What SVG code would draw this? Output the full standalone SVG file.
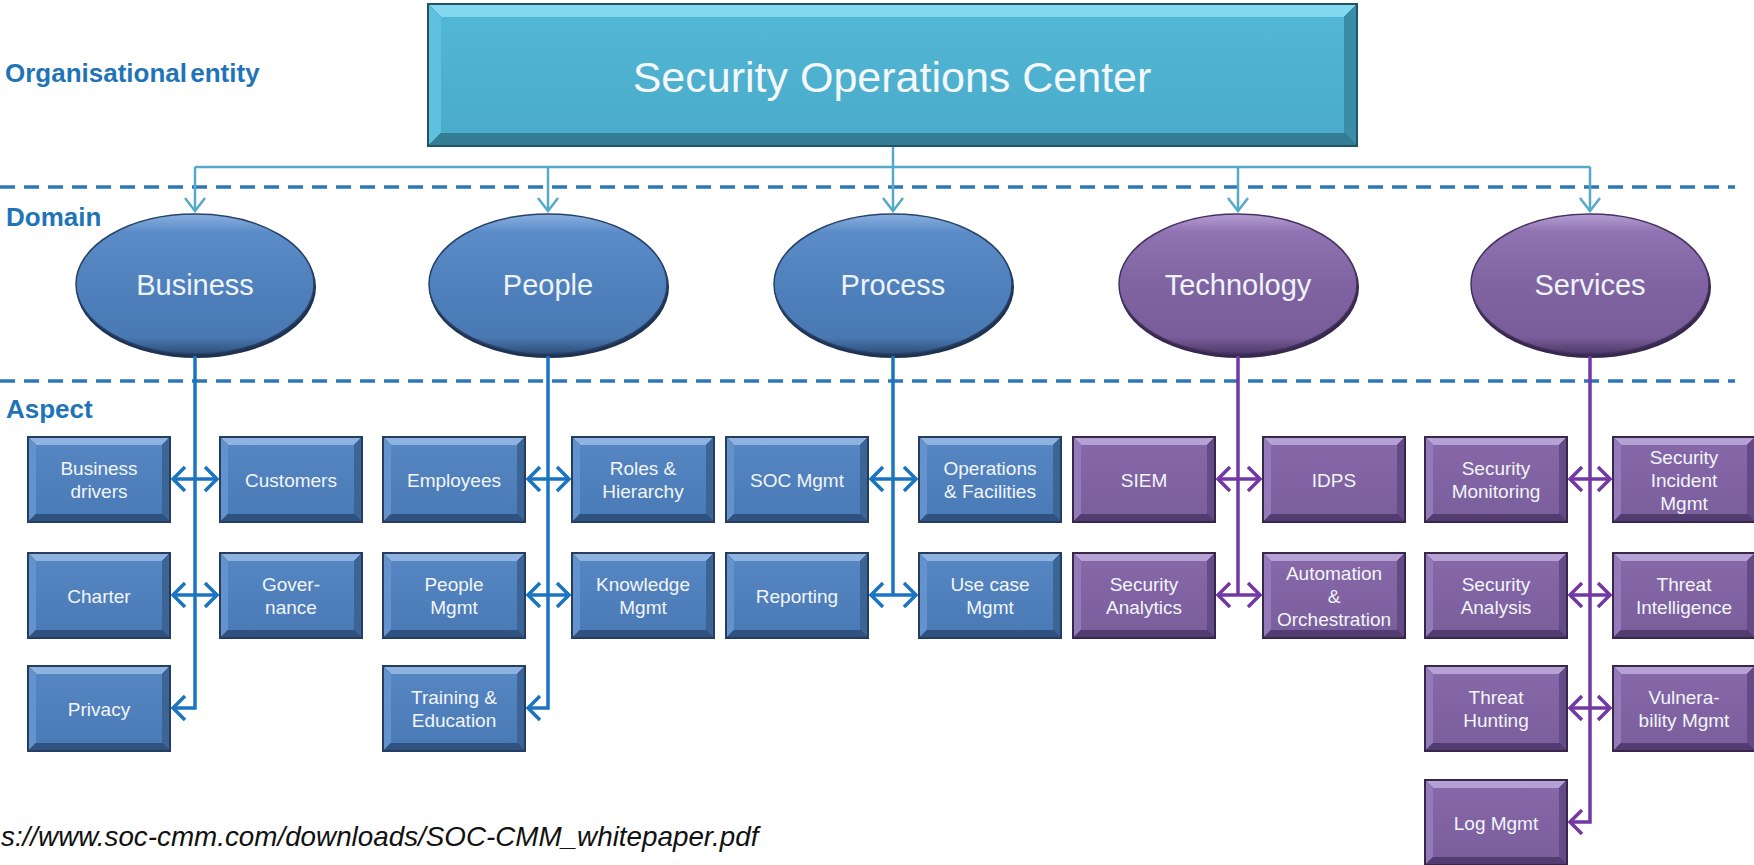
<svg xmlns="http://www.w3.org/2000/svg" xmlns:xlink="http://www.w3.org/1999/xlink" width="1754" height="865" viewBox="0 0 1754 865">
<defs>
<style>
.lbl{font-family:"Liberation Sans",Arial,sans-serif;font-weight:bold;font-size:26px;fill:#1f74b8}
.t{font-family:"Liberation Sans",Arial,sans-serif;font-size:19px;fill:#f2f5fa;text-anchor:middle}
.te{font-family:"Liberation Sans",Arial,sans-serif;font-size:29px;fill:#eef3fa;text-anchor:middle}
.ts{font-family:"Liberation Sans",Arial,sans-serif;font-size:43px;fill:#f4f8fa;text-anchor:middle}
.foot{font-family:"Liberation Sans",Arial,sans-serif;font-style:italic;font-size:27.8px;fill:#111111}
.dash{stroke:#2f78b7;stroke-width:3.5;stroke-dasharray:15 9;fill:none}
.top{stroke:#55aacb;stroke-width:2.5;fill:none}
.vb{stroke:#1b74c1;stroke-width:3.5;fill:none}
.vp{stroke:#7238a6;stroke-width:3.5;fill:none}
.eb{fill:url(#ellB);stroke:#27426a;stroke-width:1.5}
.ep{fill:url(#ellP);stroke:#45335e;stroke-width:1.5}
</style>
<linearGradient id="faceB" x1="0" y1="0" x2="0" y2="1">
<stop offset="0" stop-color="#5586c2"/><stop offset="1" stop-color="#4a7bb6"/>
</linearGradient>
<linearGradient id="faceP" x1="0" y1="0" x2="0" y2="1">
<stop offset="0" stop-color="#8668a9"/><stop offset="1" stop-color="#7b5e9c"/>
</linearGradient>
<linearGradient id="faceS" x1="0" y1="0" x2="0" y2="1">
<stop offset="0" stop-color="#52b6d5"/><stop offset="1" stop-color="#4aacca"/>
</linearGradient>
<linearGradient id="ellB" x1="0" y1="0" x2="0" y2="1">
<stop offset="0" stop-color="#8aafdf"/><stop offset="0.13" stop-color="#5b8cc8"/><stop offset="0.5" stop-color="#4f81bd"/><stop offset="0.88" stop-color="#4a79b2"/><stop offset="1" stop-color="#2e4f7a"/>
</linearGradient>
<linearGradient id="ellP" x1="0" y1="0" x2="0" y2="1">
<stop offset="0" stop-color="#b59fd3"/><stop offset="0.13" stop-color="#8e72b1"/><stop offset="0.5" stop-color="#8064a2"/><stop offset="0.88" stop-color="#795d9a"/><stop offset="1" stop-color="#4d3968"/>
</linearGradient>
<marker id="mT" viewBox="0 0 16 24" refX="14" refY="12" markerWidth="16" markerHeight="24" markerUnits="userSpaceOnUse" orient="auto">
<path d="M1,2 L14,12 L1,22" fill="none" stroke="#55aacb" stroke-width="2.5"/>
</marker>
<marker id="mB" viewBox="0 0 16 28" refX="14" refY="14" markerWidth="16" markerHeight="28" markerUnits="userSpaceOnUse" orient="auto-start-reverse">
<path d="M2,2 L14,14 L2,26" fill="none" stroke="#1b74c1" stroke-width="3.5"/>
</marker>
<marker id="mP" viewBox="0 0 16 28" refX="14" refY="14" markerWidth="16" markerHeight="28" markerUnits="userSpaceOnUse" orient="auto-start-reverse">
<path d="M2,2 L14,14 L2,26" fill="none" stroke="#7238a6" stroke-width="3.5"/>
</marker>
<g id="boxB">
<rect width="144" height="87" fill="#253e5f"/>
<polygon points="2,2 142,2 135,9 9,9" fill="#8eb3e1"/>
<polygon points="2,2 9,9 9,78 2,85" fill="#6492cc"/>
<polygon points="142,2 142,85 135,78 135,9" fill="#3b6497"/>
<polygon points="2,85 9,78 135,78 142,85" fill="#2f5280"/>
<rect x="9" y="9" width="126" height="69" fill="url(#faceB)"/>
</g>
<g id="boxP">
<rect width="144" height="87" fill="#36274b"/>
<polygon points="2,2 142,2 135,9 9,9" fill="#b6a1d5"/>
<polygon points="2,2 9,9 9,78 2,85" fill="#957abb"/>
<polygon points="142,2 142,85 135,78 135,9" fill="#654a88"/>
<polygon points="2,85 9,78 135,78 142,85" fill="#533c72"/>
<rect x="9" y="9" width="126" height="69" fill="url(#faceP)"/>
</g>
</defs>
<rect width="1754" height="865" fill="#ffffff"/>

<g id="layers">
<line class="dash" x1="0" y1="187" x2="1735" y2="187"/>
<line class="dash" x1="0" y1="381" x2="1735" y2="381"/>
<text class="lbl" x="5" y="82" word-spacing="-4">Organisational entity</text>
<text class="lbl" x="6" y="226">Domain</text>
<text class="lbl" x="6" y="418">Aspect</text>
</g>

<g id="n-soc">
<rect x="427" y="3" width="931" height="144" fill="#1f5464"/>
<polygon points="429,5 1356,5 1344,17 441,17" fill="#82d9ef"/>
<polygon points="429,5 441,17 441,133 429,145" fill="#5fc1dd"/>
<polygon points="1356,5 1356,145 1344,133 1344,17" fill="#3a8da7"/>
<polygon points="429,145 441,133 1344,133 1356,145" fill="#347d94"/>
<rect x="441" y="17" width="903" height="116" fill="url(#faceS)"/>
<text class="ts" x="892" y="92">Security Operations Center</text>
</g>

<g id="n-business">
<ellipse cx="196" cy="287" rx="120" ry="71" fill="#1f3350"/>
<ellipse class="eb" cx="195" cy="284" rx="119" ry="70"/>
<text class="te" x="195" y="295">Business</text>
</g>
<g id="n-people">
<ellipse cx="549" cy="287" rx="120" ry="71" fill="#1f3350"/>
<ellipse class="eb" cx="548" cy="284" rx="119" ry="70"/>
<text class="te" x="548" y="295">People</text>
</g>
<g id="n-process">
<ellipse cx="894" cy="287" rx="120" ry="71" fill="#1f3350"/>
<ellipse class="eb" cx="893" cy="284" rx="119" ry="70"/>
<text class="te" x="893" y="295">Process</text>
</g>
<g id="n-technology">
<ellipse cx="1239" cy="287" rx="120" ry="71" fill="#382850"/>
<ellipse class="ep" cx="1238" cy="284" rx="119" ry="70"/>
<text class="te" x="1238" y="295">Technology</text>
</g>
<g id="n-services">
<ellipse cx="1591" cy="287" rx="120" ry="71" fill="#382850"/>
<ellipse class="ep" cx="1590" cy="284" rx="119" ry="70"/>
<text class="te" x="1590" y="295">Services</text>
</g>

<g id="n-business-drivers" transform="translate(27,436)"><use xlink:href="#boxB"/><text class="t" x="72" y="39">Business</text><text class="t" x="72" y="62">drivers</text></g>
<g id="n-customers" transform="translate(219,436)"><use xlink:href="#boxB"/><text class="t" x="72" y="50.5">Customers</text></g>
<g id="n-employees" transform="translate(382,436)"><use xlink:href="#boxB"/><text class="t" x="72" y="50.5">Employees</text></g>
<g id="n-roles" transform="translate(571,436)"><use xlink:href="#boxB"/><text class="t" x="72" y="39">Roles &amp;</text><text class="t" x="72" y="62">Hierarchy</text></g>
<g id="n-soc-mgmt" transform="translate(725,436)"><use xlink:href="#boxB"/><text class="t" x="72" y="50.5">SOC Mgmt</text></g>
<g id="n-operations" transform="translate(918,436)"><use xlink:href="#boxB"/><text class="t" x="72" y="39">Operations</text><text class="t" x="72" y="62">&amp; Facilities</text></g>
<g id="n-siem" transform="translate(1072,436)"><use xlink:href="#boxP"/><text class="t" x="72" y="50.5">SIEM</text></g>
<g id="n-idps" transform="translate(1262,436)"><use xlink:href="#boxP"/><text class="t" x="72" y="50.5">IDPS</text></g>
<g id="n-sec-monitoring" transform="translate(1424,436)"><use xlink:href="#boxP"/><text class="t" x="72" y="39">Security</text><text class="t" x="72" y="62">Monitoring</text></g>
<g id="n-sec-incident" transform="translate(1612,436)"><use xlink:href="#boxP"/><text class="t" x="72" y="27.5">Security</text><text class="t" x="72" y="50.5">Incident</text><text class="t" x="72" y="73.5">Mgmt</text></g>

<g id="n-charter" transform="translate(27,552)"><use xlink:href="#boxB"/><text class="t" x="72" y="50.5">Charter</text></g>
<g id="n-governance" transform="translate(219,552)"><use xlink:href="#boxB"/><text class="t" x="72" y="39">Gover-</text><text class="t" x="72" y="62">nance</text></g>
<g id="n-people-mgmt" transform="translate(382,552)"><use xlink:href="#boxB"/><text class="t" x="72" y="39">People</text><text class="t" x="72" y="62">Mgmt</text></g>
<g id="n-knowledge" transform="translate(571,552)"><use xlink:href="#boxB"/><text class="t" x="72" y="39">Knowledge</text><text class="t" x="72" y="62">Mgmt</text></g>
<g id="n-reporting" transform="translate(725,552)"><use xlink:href="#boxB"/><text class="t" x="72" y="50.5">Reporting</text></g>
<g id="n-use-case" transform="translate(918,552)"><use xlink:href="#boxB"/><text class="t" x="72" y="39">Use case</text><text class="t" x="72" y="62">Mgmt</text></g>
<g id="n-sec-analytics" transform="translate(1072,552)"><use xlink:href="#boxP"/><text class="t" x="72" y="39">Security</text><text class="t" x="72" y="62">Analytics</text></g>
<g id="n-automation" transform="translate(1262,552)"><use xlink:href="#boxP"/><text class="t" x="72" y="27.5">Automation</text><text class="t" x="72" y="50.5">&amp;</text><text class="t" x="72" y="73.5">Orchestration</text></g>
<g id="n-sec-analysis" transform="translate(1424,552)"><use xlink:href="#boxP"/><text class="t" x="72" y="39">Security</text><text class="t" x="72" y="62">Analysis</text></g>
<g id="n-threat-intel" transform="translate(1612,552)"><use xlink:href="#boxP"/><text class="t" x="72" y="39">Threat</text><text class="t" x="72" y="62">Intelligence</text></g>

<g id="n-privacy" transform="translate(27,665)"><use xlink:href="#boxB"/><text class="t" x="72" y="50.5">Privacy</text></g>
<g id="n-training" transform="translate(382,665)"><use xlink:href="#boxB"/><text class="t" x="72" y="39">Training &amp;</text><text class="t" x="72" y="62">Education</text></g>
<g id="n-threat-hunting" transform="translate(1424,665)"><use xlink:href="#boxP"/><text class="t" x="72" y="39">Threat</text><text class="t" x="72" y="62">Hunting</text></g>
<g id="n-vulnerability" transform="translate(1612,665)"><use xlink:href="#boxP"/><text class="t" x="72" y="39">Vulnera-</text><text class="t" x="72" y="62">bility Mgmt</text></g>

<g id="n-log-mgmt" transform="translate(1424,779)"><use xlink:href="#boxP"/><text class="t" x="72" y="50.5">Log Mgmt</text></g>

<g id="connectors">
<path class="top" d="M195,167 H1590"/>
<path class="top" d="M893,147 V211" marker-end="url(#mT)"/>
<path class="top" d="M195,167 V211" marker-end="url(#mT)"/>
<path class="top" d="M548,167 V211" marker-end="url(#mT)"/>
<path class="top" d="M1238,167 V211" marker-end="url(#mT)"/>
<path class="top" d="M1590,167 V211" marker-end="url(#mT)"/>

<path class="vb" d="M195,356 V708 H173" marker-end="url(#mB)"/>
<path class="vb" d="M173,479 H217" marker-start="url(#mB)" marker-end="url(#mB)"/>
<path class="vb" d="M173,595 H217" marker-start="url(#mB)" marker-end="url(#mB)"/>

<path class="vb" d="M548,356 V708 H528" marker-end="url(#mB)"/>
<path class="vb" d="M528,479 H569" marker-start="url(#mB)" marker-end="url(#mB)"/>
<path class="vb" d="M528,595 H569" marker-start="url(#mB)" marker-end="url(#mB)"/>

<path class="vb" d="M893,356 V595"/>
<path class="vb" d="M871,479 H916" marker-start="url(#mB)" marker-end="url(#mB)"/>
<path class="vb" d="M871,595 H916" marker-start="url(#mB)" marker-end="url(#mB)"/>

<path class="vp" d="M1238,356 V595"/>
<path class="vp" d="M1218,479 H1260" marker-start="url(#mP)" marker-end="url(#mP)"/>
<path class="vp" d="M1218,595 H1260" marker-start="url(#mP)" marker-end="url(#mP)"/>

<path class="vp" d="M1590,356 V822 H1570" marker-end="url(#mP)"/>
<path class="vp" d="M1570,479 H1610" marker-start="url(#mP)" marker-end="url(#mP)"/>
<path class="vp" d="M1570,595 H1610" marker-start="url(#mP)" marker-end="url(#mP)"/>
<path class="vp" d="M1570,708 H1610" marker-start="url(#mP)" marker-end="url(#mP)"/>
</g>

<text id="source" class="foot" x="1" y="846">s://www.soc-cmm.com/downloads/SOC-CMM_whitepaper.pdf</text>
</svg>
